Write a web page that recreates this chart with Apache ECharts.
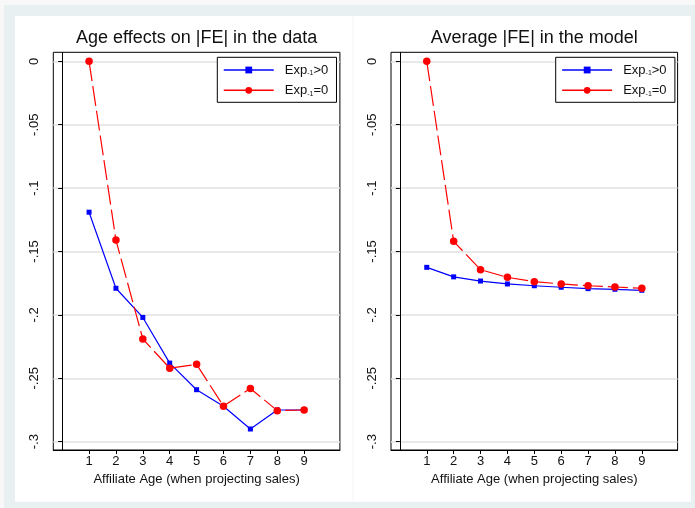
<!DOCTYPE html>
<html>
<head>
<meta charset="utf-8">
<script src="https://cdn.jsdelivr.net/npm/echarts@6/dist/echarts.min.js"></script>
<style>
html,body{margin:0;padding:0;background:#f8f8f8;}
#c{width:695px;height:508px;}
</style>
</head>
<body>
<div id="c"></div>
<script>
// ---- data ----
var ages = [1, 2, 3, 4, 5, 6, 7, 8, 9];
var dataPos  = [-0.119, -0.179, -0.202, -0.238, -0.259, -0.272, -0.290, -0.275, -0.275];
var dataZero = [0, -0.141, -0.219, -0.242, -0.239, -0.272, -0.258, -0.2755, -0.275];
var modelPos  = [-0.1625, -0.170, -0.1733, -0.1756, -0.177, -0.1782, -0.1793, -0.1798, -0.1806];
var modelZero = [0, -0.142, -0.1643, -0.1704, -0.1738, -0.1756, -0.177, -0.178, -0.179];
var yTicks = [0, -0.05, -0.1, -0.15, -0.2, -0.25, -0.3];
var yTickLabels = ['0', '-.05', '-.1', '-.15', '-.2', '-.25', '-.3'];
var titles = ['Age effects on |FE| in the data', 'Average |FE| in the model'];
var xName = 'Affiliate Age (when projecting sales)';
var seriesNames = ['Exp>0', 'Exp=0'];

function pairs(ys) { return ages.map(function (a, i) { return [a, ys[i]]; }); }
function yLabel(v) {
  var best = 0, d = 1e9;
  for (var i = 0; i < yTicks.length; i++) {
    var dd = Math.abs(yTicks[i] - v);
    if (dd < d) { d = dd; best = i; }
  }
  return yTickLabels[best];
}

var FONT = '"Liberation Sans", Arial, Helvetica, sans-serif';
var gridTop = 52.3, gridH = 397.7, gridW = 286.6;
var gridLefts = [53.3, 391];

function xAxisDef(i) {
  return {
    type: 'value', gridIndex: i, min: -0.33, max: 10.33,
    axisLine: { show: true, onZero: false, lineStyle: { color: '#000', width: 1 } },
    axisTick: { show: true, length: 4, lineStyle: { color: '#000' }, customValues: ages },
    axisLabel: { customValues: ages, margin: 5, fontSize: 13, color: '#111', fontFamily: FONT },
    splitLine: { show: false },
    name: xName, nameLocation: 'middle', nameGap: 21,
    nameTextStyle: { fontSize: 13, color: '#111', fontFamily: FONT }
  };
}
function yAxisDef(i) {
  return {
    type: 'value', gridIndex: i, min: -0.30655, max: 0.0071,
    axisLine: { show: true, lineStyle: { color: '#000', width: 1 } },
    axisTick: { show: true, length: 4, lineStyle: { color: '#000' }, customValues: yTicks },
    axisLabel: { customValues: yTicks, rotate: 90, margin: 12, fontSize: 13, color: '#111', fontFamily: FONT, formatter: yLabel },
    splitLine: { show: true, lineStyle: { color: '#e2e2e2', width: 1.5 } }
  };
}
function legendDef(left) {
  return {
    orient: 'vertical', left: left, top: 57.3,
    data: seriesNames, selectedMode: false,
    itemWidth: 50, itemHeight: 8.5, itemGap: 6.3,
    padding: [5.7, 8.3, 5, 5.7],
    backgroundColor: '#fff', borderColor: '#000', borderWidth: 1, borderRadius: 0,
    lineStyle: { type: 'solid', width: 1.5 },
    formatter: function (name) { return '{a|Exp}{s|-1}{a|' + name.slice(3) + '}'; },
    textStyle: {
      padding: [0, 0, 0, 6], lineHeight: 14, fontFamily: FONT,
      rich: {
        a: { fontSize: 13, lineHeight: 14, color: '#111', fontFamily: FONT },
        s: { fontSize: 7, lineHeight: 7, color: '#111', verticalAlign: 'bottom', fontFamily: FONT }
      }
    }
  };
}
function lineSeries(name, ys, i, color, symbol, size, dashed) {
  return {
    type: 'line', name: name, xAxisIndex: i, yAxisIndex: i,
    data: pairs(ys), symbol: symbol, symbolSize: size, showSymbol: true,
    lineStyle: { color: color, width: 1.2, type: dashed ? [20, 5] : 'solid' },
    itemStyle: { color: color },
    emphasis: { disabled: true }, animation: false
  };
}

var chart = echarts.init(document.getElementById('c'), null, { renderer: 'canvas' });
chart.setOption({
  backgroundColor: '#f8f8f8',
  animation: false,
  graphic: [
    { type: 'rect', z: -10, silent: true, shape: { x: 4, y: 5, width: 691, height: 503 }, style: { fill: '#e9f0f2' } },
    { type: 'rect', z: -9, silent: true, shape: { x: 15, y: 16, width: 676, height: 485.7 }, style: { fill: '#ffffff' } },
    { type: 'line', z: -8, silent: true, shape: { x1: 353, y1: 16, x2: 353, y2: 501.7 }, style: { stroke: '#f2f4f4', lineWidth: 1 } }
  ],
  title: [
    { text: titles[0], left: gridLefts[0] + gridW / 2, textAlign: 'center', top: 29, padding: 0,
      textStyle: { fontSize: 18, fontWeight: 'normal', color: '#111', fontFamily: FONT } },
    { text: titles[1], left: gridLefts[1] + gridW / 2, textAlign: 'center', top: 29, padding: 0,
      textStyle: { fontSize: 18, fontWeight: 'normal', color: '#111', fontFamily: FONT } }
  ],
  legend: [legendDef(217.3), legendDef(555.7)],
  grid: [
    { left: gridLefts[0], top: gridTop, width: gridW, height: gridH, show: true, backgroundColor: '#fff', borderColor: '#000', borderWidth: 1, containLabel: false },
    { left: gridLefts[1], top: gridTop, width: gridW, height: gridH, show: true, backgroundColor: '#fff', borderColor: '#000', borderWidth: 1, containLabel: false }
  ],
  xAxis: [xAxisDef(0), xAxisDef(1)],
  yAxis: [yAxisDef(0), yAxisDef(1)],
  series: [
    lineSeries(seriesNames[0], dataPos, 0, '#0000ff', 'rect', 5, false),
    lineSeries(seriesNames[1], dataZero, 0, '#ff0000', 'circle', 7.5, true),
    lineSeries(seriesNames[0], modelPos, 1, '#0000ff', 'rect', 5, false),
    lineSeries(seriesNames[1], modelZero, 1, '#ff0000', 'circle', 7.5, true)
  ]
});
</script>
</body>
</html>
